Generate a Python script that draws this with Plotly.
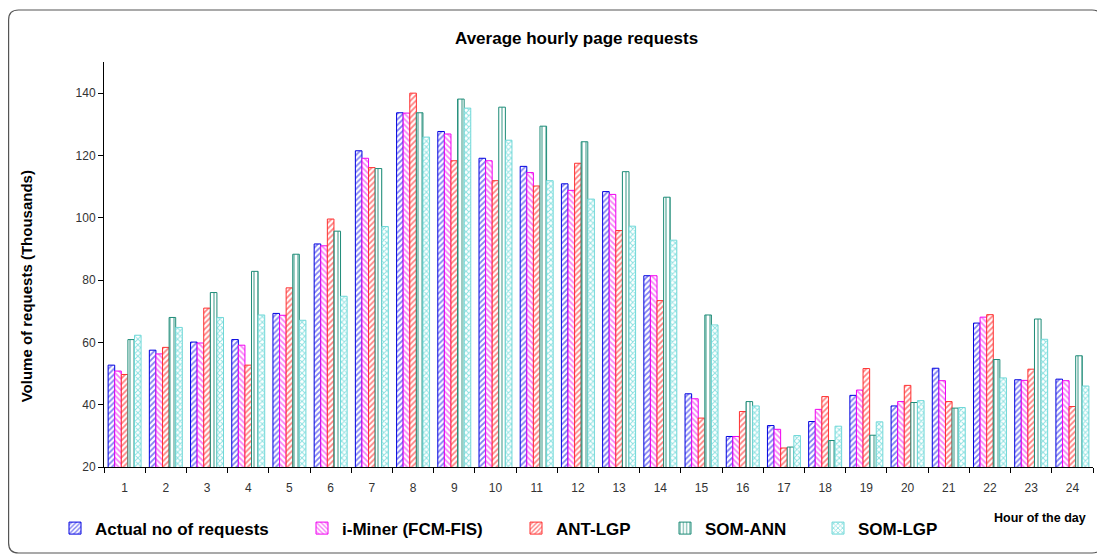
import plotly.graph_objects as go

hours = [str(h) for h in range(1, 25)]

actual = [52.7, 57.5, 60.1, 60.9, 69.3, 91.6, 121.5, 133.7, 127.7, 119.1, 116.5, 110.9,
          108.4, 81.4, 43.5, 29.8, 33.3, 34.6, 43.0, 39.6, 51.7, 66.2, 48.0, 48.2]
i_miner = [50.8, 56.3, 59.8, 59.1, 68.7, 91.0, 119.1, 133.6, 126.9, 118.3, 114.5, 108.8,
           107.5, 81.4, 41.9, 29.8, 32.1, 38.5, 44.7, 41.0, 47.7, 68.1, 47.8, 47.7]
ant_lgp = [49.7, 58.4, 71.0, 52.7, 77.5, 99.6, 116.1, 140.0, 118.3, 111.9, 110.2, 117.5,
           95.9, 73.4, 35.7, 37.8, 26.1, 42.6, 51.6, 46.2, 41.0, 68.9, 51.4, 39.4]
som_ann = [60.9, 68.0, 76.0, 82.8, 88.3, 95.7, 115.8, 133.7, 138.1, 135.5, 129.4, 124.4,
           114.8, 106.6, 68.8, 41.0, 26.4, 28.5, 30.2, 40.7, 38.9, 54.5, 67.5, 55.7]
som_lgp = [62.3, 64.8, 68.0, 68.8, 67.1, 74.8, 97.2, 125.9, 135.2, 124.9, 111.9, 106.0,
           97.3, 92.8, 65.6, 39.6, 30.1, 33.1, 34.5, 41.3, 39.1, 48.6, 61.0, 46.0]

# name, values, pattern, colour, outline, legend text start (page px)
series = [
    ("Actual no of requests", actual, "/", "#0000E8", "#0000E0", 95),
    ("i-Miner (FCM-FIS)", i_miner, "\\", "#F000F0", "#F000F0", 342),
    ("ANT-LGP", ant_lgp, "/", "#FF0000", "#FF3030", 556),
    ("SOM-ANN", som_ann, "|", "#1E8C78", "#1E8C78", 705),
    ("SOM-LGP", som_lgp, "x", "#20C4C4", "#70D8D8", 858),
]

# the page body keeps an 8px margin, so page pixels are shifted by it
OFF = 8
W, H = 1105 - OFF, 558 - OFF
PLOT_L, PLOT_R, PLOT_T, PLOT_B = 104 - OFF, 1093 - OFF, 62 - OFF, 470 - OFF
pw = PLOT_R - PLOT_L
ph = PLOT_B - PLOT_T


def px_x(x):
    return (x - OFF - PLOT_L) / pw


def px_y(y):
    return (PLOT_B - (y - OFF)) / ph


font = "Liberation Sans, Arial, sans-serif"

fig = go.Figure()
legends = {}
for i, (name, vals, shape, color, outline, text_x) in enumerate(series):
    key = "legend" if i == 0 else f"legend{i + 1}"
    fig.add_trace(
        go.Bar(
            x=hours,
            y=vals,
            name=name,
            legend=key,
            marker=dict(
                color="white",
                line=dict(color=outline, width=1),
                pattern=dict(shape=shape, fgcolor=color, bgcolor="white", size=4, solidity=0.45),
            ),
        )
    )
    legends[key] = dict(
        x=px_x(text_x - 40),
        y=px_y(532),
        xanchor="left",
        yanchor="middle",
        bgcolor="rgba(0,0,0,0)",
        font=dict(family=font, size=17, color="black", weight="bold"),
        itemwidth=30,
    )

# rounded outer frame, in pixels from the plot's bottom-left corner
L = 8.6 - OFF - PLOT_L
R = 1102 - OFF - PLOT_L
T = PLOT_B - (13 - OFF)
B = PLOT_B - (556 - OFF)
r = 10
frame = (
    f"M {L + r},{T} L {R - r},{T} Q {R},{T} {R},{T - r} L {R},{B + r} Q {R},{B} {R - r},{B} "
    f"L {L + r},{B} Q {L},{B} {L},{B + r} L {L},{T - r} Q {L},{T} {L + r},{T} Z"
)

fig.update_layout(
    width=W,
    height=H,
    margin=dict(l=PLOT_L, r=W - PLOT_R, t=PLOT_T, b=H - PLOT_B),
    paper_bgcolor="white",
    plot_bgcolor="white",
    barmode="group",
    bargap=0.2,
    bargroupgap=0,
    font=dict(family=font, color="#222"),
    xaxis=dict(
        type="category",
        showline=True,
        linecolor="black",
        linewidth=1,
        ticks="outside",
        tickson="boundaries",
        ticklen=5,
        tickcolor="black",
        showgrid=False,
        ticklabelstandoff=10,
        tickfont=dict(size=12, color="#333"),
    ),
    yaxis=dict(
        range=[20, 150],
        dtick=20,
        tick0=20,
        showline=True,
        linecolor="black",
        linewidth=1,
        ticks="outside",
        ticklen=5,
        tickcolor="black",
        showgrid=False,
        zeroline=False,
        tickfont=dict(size=12, color="#333"),
    ),
    showlegend=True,
    shapes=[
        dict(
            type="path",
            path=frame,
            xref="paper",
            yref="paper",
            xsizemode="pixel",
            ysizemode="pixel",
            xanchor=0,
            yanchor=0,
            line=dict(color="#555", width=1.2),
            layer="below",
        )
    ],
    annotations=[
        dict(
            text="<b>Average hourly page requests</b>",
            x=px_x(576),
            y=px_y(38),
            xref="paper",
            yref="paper",
            xanchor="center",
            yanchor="middle",
            showarrow=False,
            font=dict(family=font, size=17, color="black"),
        ),
        dict(
            text="<b>Volume of requests (Thousands)</b>",
            x=px_x(26),
            y=px_y(288),
            xref="paper",
            yref="paper",
            xanchor="center",
            yanchor="middle",
            textangle=-90,
            showarrow=False,
            font=dict(family=font, size=15, color="black"),
        ),
        dict(
            text="<b>Hour of the day</b>",
            x=px_x(1040),
            y=px_y(521),
            xref="paper",
            yref="paper",
            xanchor="center",
            yanchor="middle",
            showarrow=False,
            font=dict(family=font, size=12.5, color="black"),
        ),
    ],
    **legends,
)

fig.write_html("out.html")
